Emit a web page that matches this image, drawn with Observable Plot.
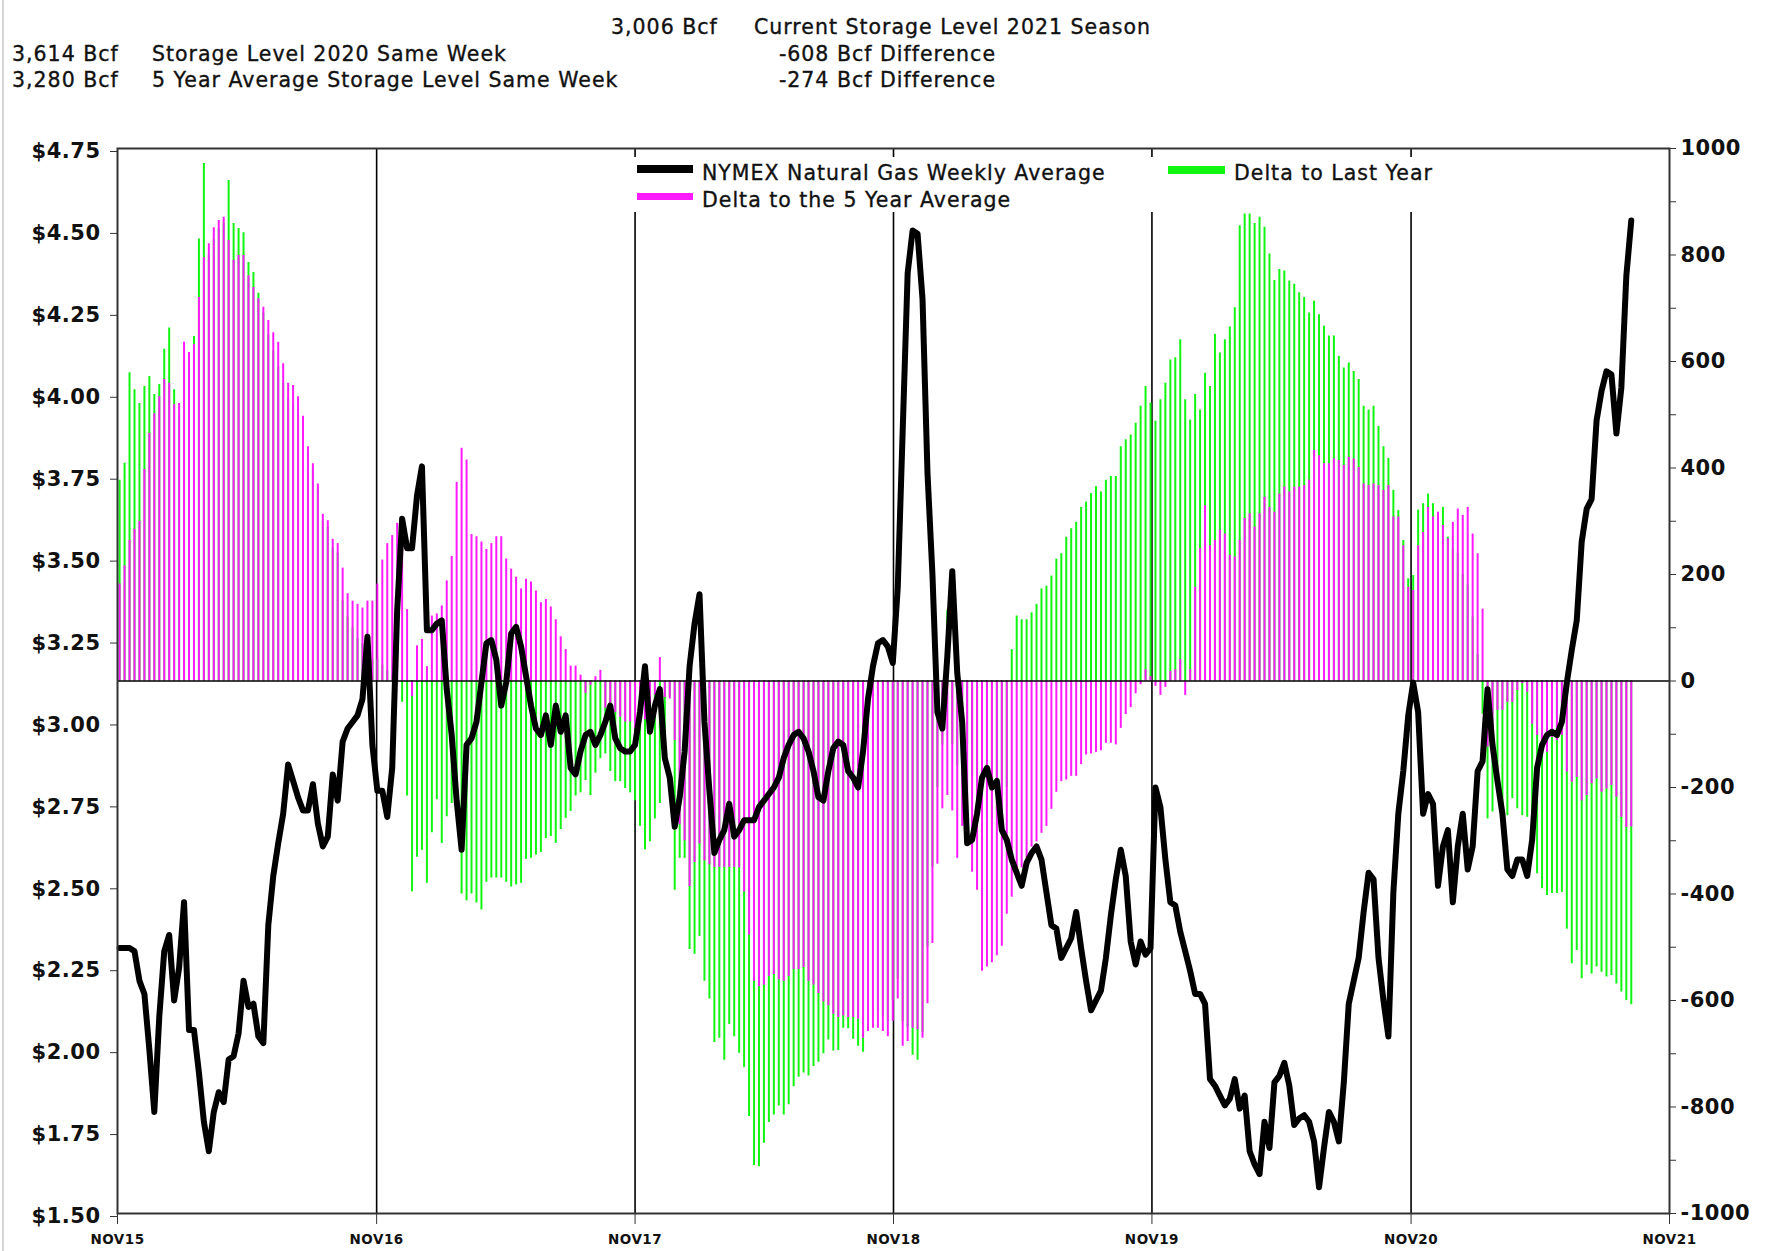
<!DOCTYPE html>
<html><head><meta charset="utf-8">
<script src="https://cdn.jsdelivr.net/npm/d3@7"></script>
<script src="https://cdn.jsdelivr.net/npm/@observablehq/plot@0.6"></script>
<style>
html,body{margin:0;padding:0;background:#fff;}
#wrap{position:relative;width:1770px;height:1251px;overflow:hidden;background:#fff;}
#edge{position:absolute;left:2px;top:0;width:2px;height:1251px;background:#d6d6d6;}
.t{position:absolute;font-family:"DejaVu Sans";font-size:20.5px;line-height:20.5px;letter-spacing:1px;color:#111;white-space:nowrap;-webkit-text-stroke:0.35px #111;}
#legend{position:absolute;left:625px;top:157px;width:820px;height:55px;background:#fff;}
.sw{position:absolute;}
#chart svg text{letter-spacing:0.5px;}
</style></head><body>
<div id="wrap"><div id="edge"></div><div id="chart"></div></div>
<script>
// ---- data ----
const seriesStart = "2015-11-04"; // first weekly observation
const yearTickYears = [2015, 2016, 2017, 2018, 2019, 2020, 2021];
const currentStorage = 3006, lastYearStorage = 3614, fiveYearStorage = 3280;
const headerLabels = ["Current Storage Level 2021 Season", "Storage Level 2020 Same Week", "5 Year Average Storage Level Same Week", "Bcf Difference"];
const legendLabels = ["NYMEX Natural Gas Weekly Average", "Delta to the 5 Year Average", "Delta to Last Year"];

// NYMEX natural gas weekly average ($/MMBtu)
const price = [
2.31,2.31,2.31,2.30,2.21,2.17,2.00,1.81,2.10,2.30,
2.35,2.15,2.25,2.45,2.06,2.06,1.93,1.78,1.69,1.81,
1.87,1.84,1.97,1.98,2.05,2.21,2.13,2.14,2.04,2.02,
2.38,2.53,2.63,2.72,2.87,2.82,2.77,2.73,2.73,2.81,
2.69,2.62,2.65,2.84,2.76,2.94,2.98,3.00,3.02,3.07,
3.26,2.93,2.79,2.79,2.71,2.86,3.34,3.62,3.53,3.53,
3.69,3.78,3.28,3.28,3.30,3.31,3.10,2.96,2.76,2.61,
2.93,2.95,3.00,3.12,3.24,3.25,3.19,3.05,3.12,3.27,
3.29,3.23,3.14,3.05,2.98,2.96,3.02,2.93,3.05,2.97,
3.02,2.86,2.84,2.91,2.96,2.97,2.93,2.96,3.00,3.05,
2.95,2.92,2.91,2.91,2.93,3.03,3.17,2.97,3.05,3.10,
2.89,2.83,2.68,2.77,2.91,3.17,3.30,3.39,3.00,2.79,
2.60,2.64,2.67,2.75,2.65,2.67,2.70,2.70,2.70,2.74,
2.76,2.78,2.80,2.83,2.89,2.93,2.96,2.97,2.95,2.91,
2.85,2.77,2.76,2.85,2.92,2.94,2.93,2.85,2.83,2.80,
2.91,3.07,3.17,3.24,3.25,3.23,3.18,3.41,3.89,4.37,
4.50,4.49,4.29,3.76,3.45,3.03,2.98,3.20,3.46,3.15,
3.00,2.63,2.64,2.72,2.83,2.86,2.80,2.82,2.67,2.64,
2.58,2.54,2.50,2.57,2.60,2.62,2.58,2.48,2.38,2.37,
2.28,2.31,2.34,2.42,2.31,2.21,2.12,2.15,2.18,2.28,
2.41,2.52,2.61,2.53,2.33,2.26,2.33,2.29,2.31,2.80,
2.74,2.58,2.45,2.44,2.36,2.30,2.24,2.17,2.17,2.14,
1.91,1.89,1.86,1.83,1.85,1.91,1.82,1.86,1.69,1.65,
1.62,1.78,1.70,1.90,1.92,1.96,1.89,1.77,1.79,1.80,
1.78,1.72,1.58,1.70,1.81,1.78,1.72,1.90,2.14,2.21,
2.28,2.42,2.54,2.52,2.28,2.15,2.04,2.48,2.72,2.85,
3.02,3.12,3.03,2.72,2.78,2.75,2.50,2.62,2.67,2.45,
2.62,2.72,2.55,2.62,2.85,2.88,3.10,2.93,2.82,2.72,
2.55,2.53,2.58,2.58,2.53,2.64,2.86,2.93,2.96,2.97,
2.96,3.00,3.12,3.22,3.31,3.55,3.65,3.68,3.92,4.01,
4.07,4.06,3.88,4.02,4.36,4.53];

// storage delta to the 5 year average (Bcf)
const delta5yr = [
182,216,264,285,300,397,465,502,534,566,
559,519,521,636,617,632,720,795,821,851,
865,871,827,790,799,799,761,739,718,702,
677,654,636,596,559,555,534,497,440,408,
370,313,301,266,258,212,164,150,144,137,
150,150,182,227,258,273,296,250,134,-29,
66,78,27,122,126,141,188,234,373,437,
415,275,271,261,247,258,271,271,229,210,
195,173,191,186,169,147,153,139,115,83,
59,28,28,11,-23,-8,8,20,-51,-51,
-59,-68,-77,-77,-90,-86,-73,-63,-27,44,
-31,-34,-112,-270,-300,-386,-341,-306,-338,-345,
-350,-350,-350,-350,-350,-351,-396,-477,-564,-574,
-571,-555,-551,-561,-564,-555,-542,-542,-538,-564,
-571,-587,-603,-610,-626,-632,-629,-632,-632,-635,
-671,-658,-652,-652,-658,-668,-639,-597,-686,-677,
-652,-655,-671,-606,-493,-344,-240,-215,-244,-333,
-273,-247,-359,-393,-545,-537,-529,-516,-498,-438,
-406,-370,-351,-333,-312,-302,-286,-273,-241,-209,
-189,-186,-179,-179,-157,-139,-137,-134,-131,-117,
-117,-120,-89,-63,-50,-24,-7,21,8,-10,
-27,-12,18,21,40,-27,21,176,248,329,
254,264,283,276,236,233,264,305,314,289,
314,345,326,317,351,364,355,364,364,367,
377,433,423,408,408,417,414,405,420,417,
401,370,367,370,367,358,367,308,308,254,
176,170,254,279,326,308,317,292,267,298,
323,311,326,276,239,135,-124,-110,-55,-55,
-40,-40,-18,-5,-21,-81,-102,-118,-134,-106,
-112,-102,-171,-190,-181,-225,-215,-193,-184,-209,
-203,-196,-218,-256,-275,-274];

// storage delta to last year (Bcf)
const deltaLastYear = [
377,409,579,547,521,553,572,538,557,623,
663,547,500,600,590,647,830,972,800,830,
850,860,940,859,850,842,786,767,728,690,
650,620,590,560,530,520,500,470,430,400,
360,300,290,250,240,150,120,100,80,70,
60,40,40,30,20,10,5,-40,-216,-396,
-331,-318,-380,-285,-223,-305,-255,-230,-187,-400,
-413,-400,-417,-430,-378,-370,-370,-370,-378,-387,
-383,-380,-335,-333,-327,-322,-296,-292,-305,-279,
-258,-245,-216,-210,-187,-215,-173,-146,-137,-170,
-189,-189,-202,-210,-225,-273,-317,-302,-259,-230,
-154,-30,-393,-333,-333,-504,-513,-480,-564,-597,
-679,-671,-712,-645,-668,-699,-726,-818,-910,-912,
-868,-829,-815,-798,-815,-796,-762,-744,-736,-742,
-724,-716,-700,-674,-695,-694,-652,-653,-673,-686,
-697,-640,-630,-620,-630,-640,-600,-560,-640,-650,
-703,-712,-660,-500,-350,-200,-120,133,-120,-160,
-130,-120,-180,-200,-270,-260,-260,-250,-240,-200,
59,122,115,115,128,144,173,178,197,229,
239,270,286,298,326,336,352,365,355,377,
384,384,440,453,462,484,516,553,522,488,
528,559,603,607,641,528,490,538,509,578,
553,651,616,641,665,701,855,877,877,859,
871,852,802,752,773,770,751,745,729,720,
691,713,688,666,648,648,610,588,597,581,
566,516,509,516,478,440,418,358,320,264,
192,198,321,333,351,333,300,326,270,250,
240,200,180,120,50,-62,-259,-246,-180,-250,
-253,-221,-240,-253,-256,-312,-362,-390,-403,-399,
-399,-397,-466,-531,-506,-559,-534,-550,-537,-547,
-556,-553,-569,-584,-600,-608];

const priceTicks = [1.50,1.75,2.00,2.25,2.50,2.75,3.00,3.25,3.50,3.75,4.00,4.25,4.50,4.75];
const bcfTicks = d3.range(-1000, 1001, 100);

// ---- build ----
const start = new Date(seriesStart + "T00:00:00Z");
const rows = price.map((p, i) => ({
  date: new Date(start.getTime() + i * 7 * 864e5),
  price: p, d5: delta5yr[i], dly: deltaLastYear[i]
}));
const years = yearTickYears.map(y => new Date(Date.UTC(y, 10, 1)));

// right (Bcf) axis is mapped onto the price scale: -1000..1000 -> 1.50..4.75
const ZERO = (1.5 + 4.75) / 2, K = (4.75 - 1.5) / 2000;
const toP = v => ZERO + v * K;

const chart = Plot.plot({
  width: 1770, height: 1251,
  marginTop: 148, marginBottom: 38, marginLeft: 117, marginRight: 101,
  style: {fontFamily: "DejaVu Sans", fontWeight: "bold", fontSize: "21px", background: "transparent", color: "#111", overflow: "visible"},
  x: {type: "utc", domain: [years[0], years[years.length - 1]]},
  y: {domain: [1.5, 4.75]},
  marks: [
    Plot.ruleX(years.slice(1, -1), {stroke: "#000", strokeWidth: 1.6}),
    Plot.ruleX(rows, {x: "date", y1: ZERO, y2: d => toP(d.dly), stroke: "#11f511", strokeWidth: 2}),
    Plot.ruleX(rows, {x: "date", y1: ZERO, y2: d => toP(d.d5), stroke: "#ff1aff", strokeWidth: 2}),
    Plot.ruleY([ZERO], {stroke: "#000", strokeWidth: 1.6}),
    Plot.line(rows, {x: "date", y: "price", stroke: "#000", strokeWidth: 6, strokeLinejoin: "round", strokeLinecap: "round"}),
    Plot.frame({stroke: "#333", strokeWidth: 2}),
    Plot.axisY(priceTicks, {anchor: "left", tickSize: 7, tickPadding: 10, dy: 3, stroke: "#333",
      tickFormat: d => "$" + d.toFixed(2), label: null}),
    Plot.axisY(bcfTicks.map(toP), {anchor: "right", tickSize: 6, tickPadding: 5, stroke: "#333",
      tickFormat: p => { const v = Math.round((p - ZERO) / K); return v % 200 === 0 ? String(v) : ""; }, label: null}),
    Plot.axisX(years, {anchor: "bottom", tickSize: 11, tickPadding: 10, fontSize: 13.5, stroke: "#333",
      tickFormat: d => "NOV" + String(d.getUTCFullYear()).slice(2), label: null})
  ]
});
const wrap = document.getElementById("wrap");
document.getElementById("chart").appendChild(chart);

// ---- header text ----
const fmt = d3.format(",");
function txt(s, css) {
  const e = document.createElement("div");
  e.className = "t"; e.textContent = s;
  Object.assign(e.style, css);
  wrap.appendChild(e);
  return e;
}
txt(fmt(currentStorage) + " Bcf", {left: "611px", top: "17px"});
txt(headerLabels[0], {left: "754px", top: "17px"});
txt(fmt(lastYearStorage) + " Bcf", {left: "12px", top: "44px"});
txt(headerLabels[1], {left: "152px", top: "44px"});
txt((currentStorage - lastYearStorage) + " " + headerLabels[3], {right: "774px", top: "44px"});
txt(fmt(fiveYearStorage) + " Bcf", {left: "12px", top: "70px"});
txt(headerLabels[2], {left: "152px", top: "70px"});
txt((currentStorage - fiveYearStorage) + " " + headerLabels[3], {right: "774px", top: "70px"});

// ---- legend ----
const lg = document.createElement("div"); lg.id = "legend"; wrap.appendChild(lg);
function sw(color, css) {
  const e = document.createElement("div"); e.className = "sw";
  Object.assign(e.style, {background: color}, css); wrap.appendChild(e);
}
sw("#000", {left: "637px", top: "165px", width: "56px", height: "8px"});
sw("#ff1aff", {left: "637px", top: "193px", width: "56px", height: "7px"});
sw("#11f511", {left: "1168px", top: "166px", width: "57px", height: "8px"});
txt(legendLabels[0], {left: "702px", top: "163px"});
txt(legendLabels[1], {left: "702px", top: "190px"});
txt(legendLabels[2], {left: "1234px", top: "163px"});
</script>
</body></html>
